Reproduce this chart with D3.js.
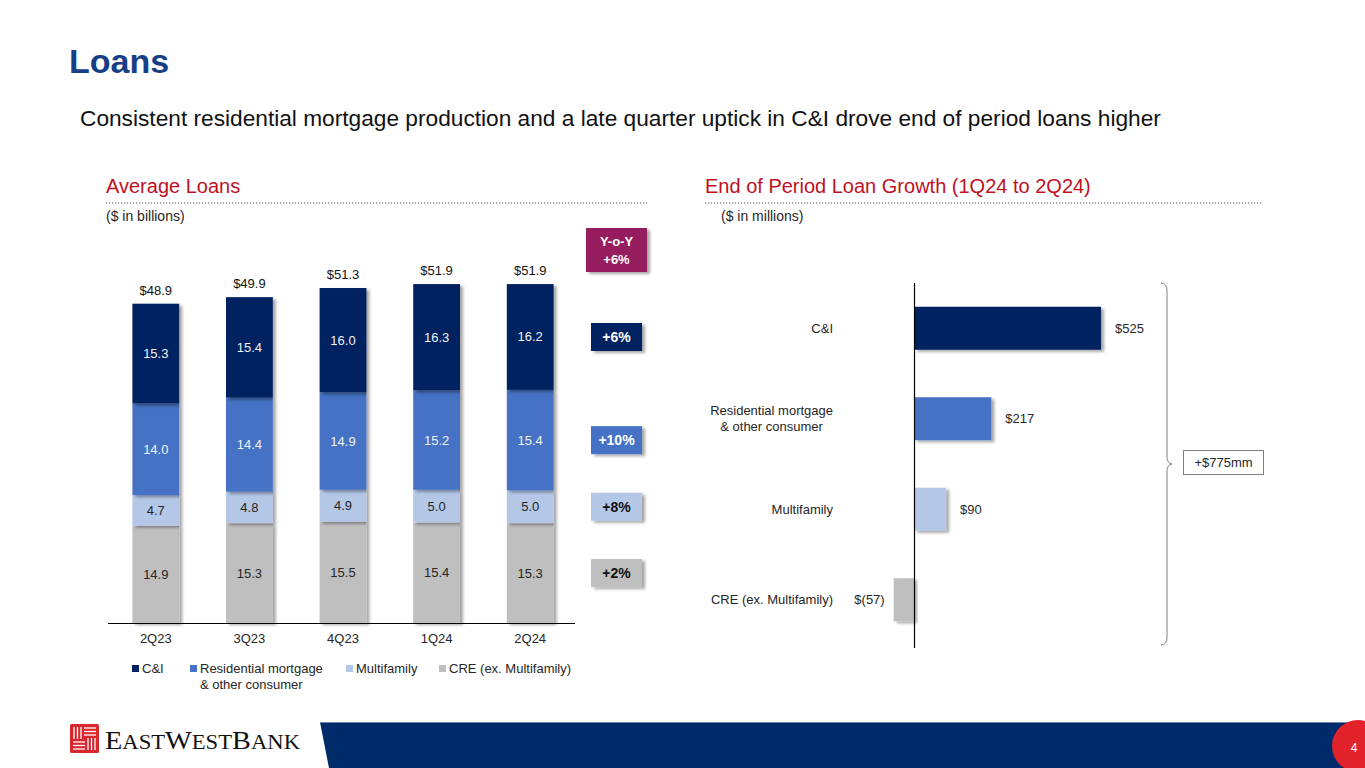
<!DOCTYPE html>
<html>
<head>
<meta charset="utf-8">
<script src="https://cdn.jsdelivr.net/npm/d3@7"></script>
<style>
  html, body { margin: 0; padding: 0; background: #fff; }
  svg text { font-family: "Liberation Sans", Arial, sans-serif; }
</style>
</head>
<body>
<svg id="slide" width="1365" height="768"></svg>
<script>
// average loans ($bn), bottom to top of each stack
const quarters = ['2Q23', '3Q23', '4Q23', '1Q24', '2Q24']
const cre = [14.9, 15.3, 15.5, 15.4, 15.3]
const multifamily = [4.7, 4.8, 4.9, 5.0, 5.0]
const residential = [14.0, 14.4, 14.9, 15.2, 15.4]
const cni = [15.3, 15.4, 16.0, 16.3, 16.2]

const seriesKeys = ['cre', 'multifamily', 'residential', 'cni']
const seriesNames = ['CRE (ex. Multifamily)', 'Multifamily', 'Residential mortgage\n& other consumer', 'C&I']
const seriesColors = ['#BFBFBF', '#B4C7E7', '#4472C4', '#002060']
const seriesText = ['#262626', '#262626', '#f2f2f2', '#f2f2f2']
const yoyBySeries = ['+2%', '+8%', '+10%', '+6%']
const yoyTotal = '+6%'

// end of period growth ($mm)
const eopCategories = ['C&I', 'Residential mortgage\n& other consumer', 'Multifamily', 'CRE (ex. Multifamily)']
const eopGrowth = [525, 217, 90, -57]
const eopColors = ['#002060', '#4472C4', '#B4C7E7', '#BFBFBF']
const eopTotal = '+$775mm'

const svg = d3.select('#slide')

const defs = svg.append('defs')
const f = defs.append('filter').attr('id', 'shadow')
  .attr('x', '-10%').attr('y', '-10%').attr('width', '130%').attr('height', '130%')
f.append('feDropShadow').attr('dx', 3).attr('dy', 2).attr('stdDeviation', 1.4)
  .attr('flood-color', '#000').attr('flood-opacity', 0.35)

// ---- header
svg.append('text').attr('x', 69).attr('y', 73)
  .attr('font-size', 34).attr('font-weight', 'bold').attr('fill', '#173F85')
  .text('Loans')

svg.append('text').attr('x', 80).attr('y', 126)
  .attr('font-size', 22.7).attr('fill', '#111')
  .text('Consistent residential mortgage production and a late quarter uptick in C&I drove end of period loans higher')

function sectionHead(x, x2, title, sub) {
  svg.append('text').attr('x', x).attr('y', 193)
    .attr('font-size', 20).attr('fill', '#C0111F').text(title)
  svg.append('line').attr('x1', x).attr('x2', x2).attr('y1', 203).attr('y2', 203)
    .attr('stroke', '#8C8C8C').attr('stroke-width', 1.5).attr('stroke-dasharray', '1.2,1.8')
  svg.append('text').attr('x', sub.x).attr('y', 221)
    .attr('font-size', 14).attr('fill', '#262626').text(sub.t)
}
sectionHead(106, 648, 'Average Loans', { x: 106, t: '($ in billions)' })
sectionHead(705, 1262, 'End of Period Loan Growth (1Q24 to 2Q24)', { x: 721, t: '($ in millions)' })

// ---- left: stacked bars
const table = quarters.map((q, i) => ({
  q, cre: cre[i], multifamily: multifamily[i], residential: residential[i], cni: cni[i]
}))
const stacked = d3.stack().keys(seriesKeys)(table)

const x = d3.scaleBand().domain(quarters).range([109, 577]).paddingInner(0.5).paddingOuter(0.25)
const y = d3.scaleLinear().domain([0, 60]).range([623, 623 - 60 * 6.53])

const gBars = svg.append('g')
stacked.forEach((s, si) => {
  const g = gBars.append('g')
  g.selectAll('rect').data(s).join('rect')
    .attr('x', d => x(d.data.q))
    .attr('y', d => y(d[1]))
    .attr('width', x.bandwidth())
    .attr('height', d => y(d[0]) - y(d[1]))
    .attr('fill', seriesColors[si])
    .attr('filter', 'url(#shadow)')
})
stacked.forEach((s, si) => {
  gBars.append('g').selectAll('text').data(s).join('text')
    .attr('x', d => x(d.data.q) + x.bandwidth() / 2)
    .attr('y', d => (y(d[0]) + y(d[1])) / 2 + 4.5)
    .attr('text-anchor', 'middle').attr('font-size', 13)
    .attr('fill', seriesText[si])
    .text(d => (d[1] - d[0]).toFixed(1))
})
const topSeries = stacked[stacked.length - 1]
gBars.append('g').selectAll('text').data(topSeries).join('text')
  .attr('x', d => x(d.data.q) + x.bandwidth() / 2)
  .attr('y', d => y(d[1]) - 9)
  .attr('text-anchor', 'middle').attr('font-size', 13).attr('fill', '#111')
  .text(d => '$' + d[1].toFixed(1))

svg.append('line').attr('x1', 108).attr('x2', 575).attr('y1', 623.5).attr('y2', 623.5)
  .attr('stroke', '#000').attr('stroke-width', 1.2)

const xAxis = svg.append('g').attr('transform', 'translate(0,623)')
  .call(d3.axisBottom(x).tickSize(0).tickPadding(11))
xAxis.select('.domain').remove()
xAxis.selectAll('text').attr('font-size', 13).attr('fill', '#262626')
  .attr('font-family', '"Liberation Sans", Arial, sans-serif')

// legend (C&I first)
const legendX = [132, 190, 346, 439]
const legendOrder = [3, 2, 1, 0]
legendOrder.forEach((si, i) => {
  svg.append('rect').attr('x', legendX[i]).attr('y', 665).attr('width', 7).attr('height', 7)
    .attr('fill', seriesColors[si])
  const t = svg.append('text').attr('y', 672.5)
    .attr('font-size', 13).attr('fill', '#262626')
  seriesNames[si].split('\n').forEach((line, li) => {
    t.append('tspan').attr('x', legendX[i] + 10).attr('dy', li ? 16 : 0).text(line)
  })
})

// Y-o-Y badges aligned to the latest quarter
const lastIdx = quarters.length - 1
svg.append('rect').attr('x', 586).attr('y', 228).attr('width', 61).attr('height', 44)
  .attr('fill', '#951B5D').attr('filter', 'url(#shadow)')
svg.append('text').attr('x', 616.5).attr('y', 246).attr('text-anchor', 'middle')
  .attr('font-size', 13).attr('font-weight', 'bold').attr('fill', '#fff').text('Y-o-Y')
svg.append('text').attr('x', 616.5).attr('y', 264).attr('text-anchor', 'middle')
  .attr('font-size', 13).attr('font-weight', 'bold').attr('fill', '#fff').text(yoyTotal)

stacked.forEach((s, si) => {
  const d = s[lastIdx]
  const cy = (y(d[0]) + y(d[1])) / 2
  svg.append('rect').attr('x', 591).attr('y', cy - 14).attr('width', 51).attr('height', 28)
    .attr('fill', seriesColors[si]).attr('filter', 'url(#shadow)')
  svg.append('text').attr('x', 616.5).attr('y', cy + 5).attr('text-anchor', 'middle')
    .attr('font-size', 14).attr('font-weight', 'bold')
    .attr('fill', si >= 2 ? '#fff' : '#111').text(yoyBySeries[si])
})

// ---- right: horizontal growth bars
const yb = d3.scaleBand().domain(eopCategories).range([283, 645]).paddingInner(0.525).paddingOuter(0.2625)
const xb = d3.scaleLinear().domain([-60, 560]).range([914 - 60 * 0.3562, 914 + 560 * 0.3562])

const gH = svg.append('g')
gH.selectAll('rect').data(eopGrowth).join('rect')
  .attr('x', d => Math.min(xb(0), xb(d)))
  .attr('y', (d, i) => yb(eopCategories[i]))
  .attr('width', d => Math.abs(xb(d) - xb(0)))
  .attr('height', yb.bandwidth())
  .attr('fill', (d, i) => eopColors[i])
  .attr('filter', 'url(#shadow)')

gH.selectAll('text.val').data(eopGrowth).join('text').attr('class', 'val')
  .attr('x', d => d >= 0 ? xb(d) + 14 : xb(d) - 9)
  .attr('y', (d, i) => yb(eopCategories[i]) + yb.bandwidth() / 2 + 4.5)
  .attr('text-anchor', d => d >= 0 ? 'start' : 'end')
  .attr('font-size', 13).attr('fill', '#262626')
  .text(d => d >= 0 ? '$' + d : '$(' + Math.abs(d) + ')')

eopCategories.forEach((c, i) => {
  const lines = c.split('\n')
  const cy = yb(c) + yb.bandwidth() / 2
  const t = gH.append('text').attr('font-size', 13).attr('fill', '#262626').attr('text-anchor', 'middle')
  const spans = lines.map((line, li) => t.append('tspan')
    .attr('dy', li ? 16 : 0).text(line))
  let w = 0
  spans.forEach(sp => { w = Math.max(w, sp.node().getComputedTextLength()) })
  const cx = 833 - w / 2
  spans.forEach(sp => sp.attr('x', cx))
  t.attr('y', cy + 4.5 - (lines.length - 1) * 8)
})

svg.append('line').attr('x1', 914.5).attr('x2', 914.5).attr('y1', 283).attr('y2', 648)
  .attr('stroke', '#000').attr('stroke-width', 1.2)

// brace + total
const bTop = yb.range()[0], bBot = yb.range()[1], bMid = (bTop + bBot) / 2
svg.append('path')
  .attr('d', `M1161,${bTop} Q1167,${bTop} 1167,${bTop + 8} L1167,${bMid - 7} Q1167,${bMid - 1} 1172,${bMid} Q1167,${bMid + 1} 1167,${bMid + 7} L1167,${bBot - 8} Q1167,${bBot} 1161,${bBot}`)
  .attr('fill', 'none').attr('stroke', '#7F7F7F').attr('stroke-width', 1)
svg.append('rect').attr('x', 1183.5).attr('y', 450.5).attr('width', 80).attr('height', 24)
  .attr('fill', '#fff').attr('stroke', '#7F7F7F').attr('stroke-width', 1)
svg.append('text').attr('x', 1223.5).attr('y', 467).attr('text-anchor', 'middle')
  .attr('font-size', 13).attr('fill', '#262626').text(eopTotal)

// ---- footer
svg.append('polygon').attr('points', '320,722 1365,722 1365,768 329,768').attr('fill', '#002B6A')
svg.append('line').attr('x1', 320).attr('x2', 1365).attr('y1', 722.5).attr('y2', 722.5)
  .attr('stroke', '#6C86B0').attr('stroke-width', 1)
svg.append('circle').attr('cx', 1358).attr('cy', 746).attr('r', 26).attr('fill', '#E3232B')
svg.append('text').attr('x', 1354).attr('y', 752).attr('text-anchor', 'middle')
  .attr('font-size', 12).attr('fill', '#fff').text('4')

// logo mark
const logo = svg.append('g').attr('transform', 'translate(70,724)')
logo.append('rect').attr('width', 29).attr('height', 29).attr('rx', 1.5).attr('fill', '#D9272E')
const st = logo.append('g').attr('stroke', '#fff').attr('stroke-width', 1.3)
;[4, 7.5, 11].forEach(v => {
  st.append('line').attr('x1', v).attr('x2', v).attr('y1', 3).attr('y2', 15)
  st.append('line').attr('x1', 14).attr('x2', 26).attr('y1', v).attr('y2', v)
  st.append('line').attr('x1', 3).attr('x2', 15).attr('y1', 29 - v).attr('y2', 29 - v)
  st.append('line').attr('x1', 29 - v).attr('x2', 29 - v).attr('y1', 14).attr('y2', 26)
})
const lt = svg.append('text').attr('x', 105).attr('y', 749)
  .attr('fill', '#111')
  .attr('textLength', 195).attr('lengthAdjust', 'spacingAndGlyphs')
  .style('font-family', '"Liberation Serif", "DejaVu Serif", serif')
;[['E', 25], ['AST', 20], ['W', 25], ['EST', 20], ['B', 25], ['ANK', 20]].forEach(p => {
  lt.append('tspan').attr('font-size', p[1]).text(p[0])
})
</script>
</body>
</html>
